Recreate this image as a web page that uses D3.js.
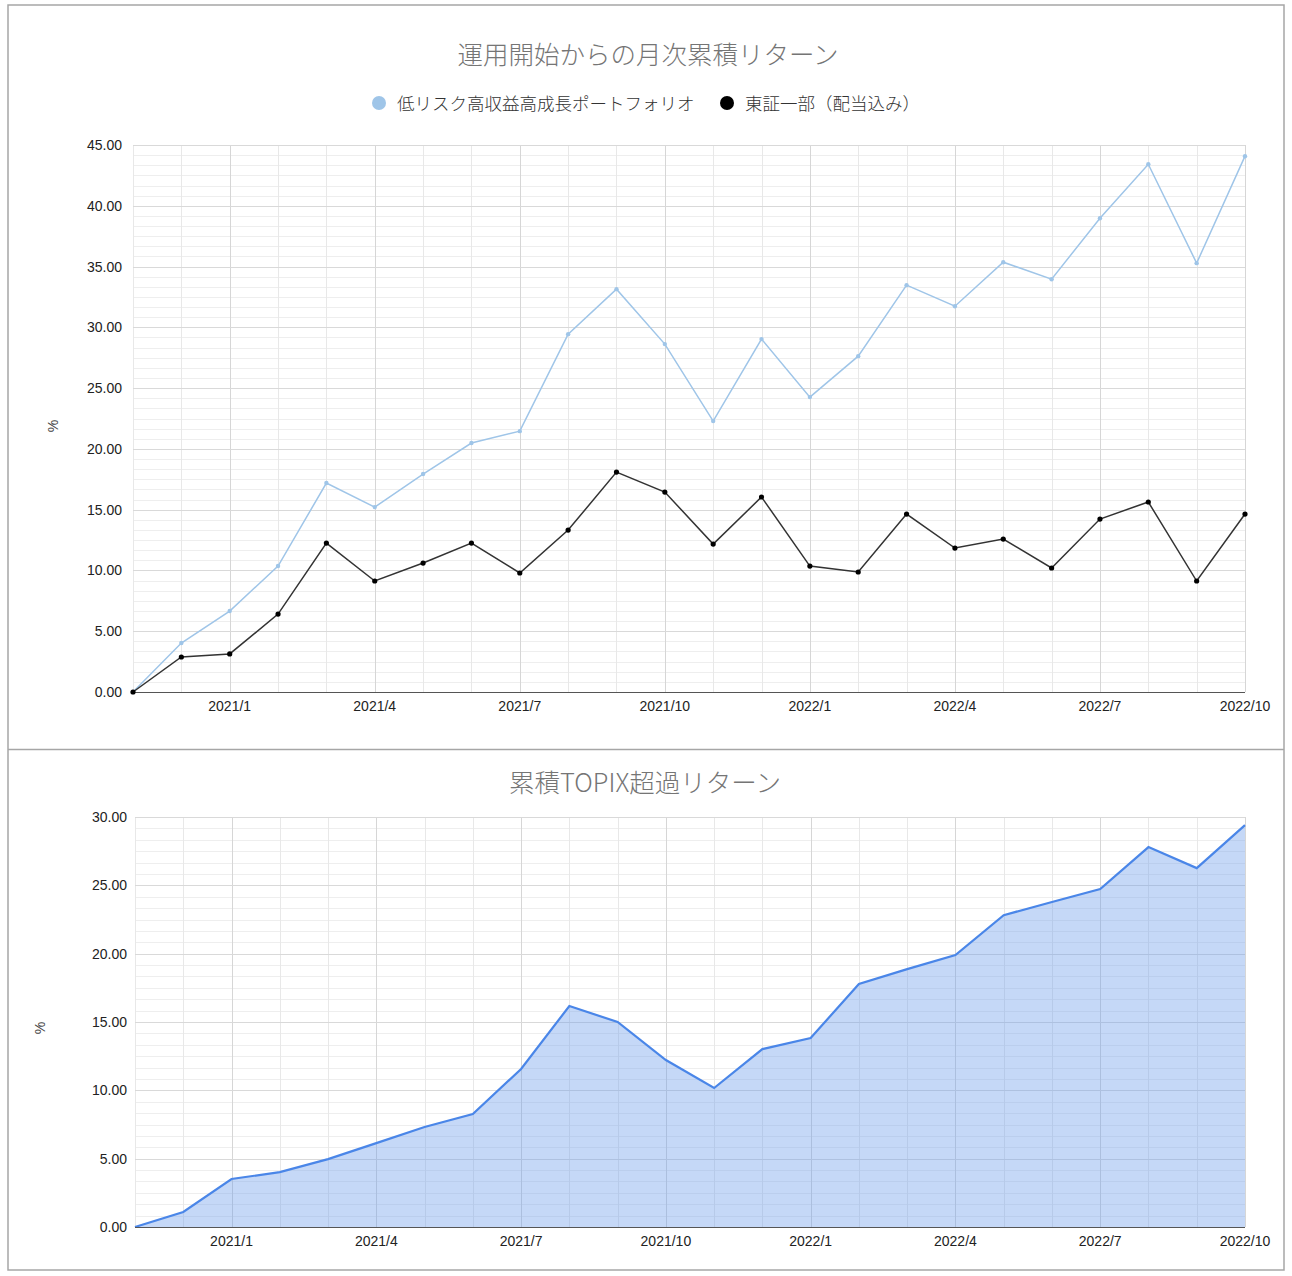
<!DOCTYPE html>
<html>
<head>
<meta charset="utf-8">
<script src="https://cdn.jsdelivr.net/npm/d3@7"></script>
<style>
  body { margin: 0; background: #fff; }
  text { font-family: "Liberation Sans", Arial, sans-serif; }
  .jp { font-family: "Noto Sans CJK JP", sans-serif; }
</style>
</head>
<body>
<svg id="chart" width="1292" height="1276"></svg>
<script>
// months from 2020/11 to 2022/10
const months = ['2020/11', '2020/12', '2021/1', '2021/2', '2021/3', '2021/4', '2021/5', '2021/6',
  '2021/7', '2021/8', '2021/9', '2021/10', '2021/11', '2021/12', '2022/1', '2022/2', '2022/3',
  '2022/4', '2022/5', '2022/6', '2022/7', '2022/8', '2022/9', '2022/10'];
const tickLabels = ['2021/1', '2021/4', '2021/7', '2021/10', '2022/1', '2022/4', '2022/7', '2022/10'];

const portfolio = [0, 4.03, 6.66, 10.36, 17.19, 15.21, 17.93, 20.48, 21.46, 29.44, 33.14, 28.62,
  22.29, 29.03, 24.26, 27.63, 33.47, 31.74, 35.36, 33.96, 38.98, 43.42, 35.28, 44.08];
const topix = [0, 2.88, 3.13, 6.41, 12.25, 9.13, 10.61, 12.25, 9.79, 13.32, 18.09, 16.45,
  12.17, 16.04, 10.36, 9.87, 14.64, 11.84, 12.58, 10.20, 14.23, 15.63, 9.13, 14.64];
const excess = [0, 1.1, 3.51, 4.02, 4.97, 6.14, 7.32, 8.27, 11.56, 16.17, 15.0, 12.22,
  10.17, 13.02, 13.83, 17.78, 18.87, 19.9, 22.82, 23.78, 24.73, 27.8, 26.26, 29.41];

const topTicks = [0, 5, 10, 15, 20, 25, 30, 35, 40, 45];
const bottomTicks = [0, 5, 10, 15, 20, 25, 30];

const svg = d3.select('#chart');

// frames
svg.append('rect').attr('x', 8).attr('y', 5).attr('width', 1276).attr('height', 1265)
  .attr('fill', 'none').attr('stroke', '#a6a6a6').attr('stroke-width', 1.5);
svg.append('line').attr('x1', 8).attr('x2', 1284).attr('y1', 749.5).attr('y2', 749.5)
  .attr('stroke', '#a6a6a6').attr('stroke-width', 1.5);

function drawGrid(g, x, y, ticks, left, right, top, bottom, yLabelX) {
  const max = ticks[ticks.length - 1];
  const minor = d3.range(0, max + 0.001, 5 / 6);
  g.append('g').selectAll('line').data(minor).join('line')
    .attr('x1', left).attr('x2', right)
    .attr('y1', (d) => Math.round(y(d)) + 0.5).attr('y2', (d) => Math.round(y(d)) + 0.5)
    .attr('stroke', '#eeeeee');
  g.append('g').selectAll('line').data(months).join('line')
    .attr('x1', (d) => Math.round(x(d)) + 0.5).attr('x2', (d) => Math.round(x(d)) + 0.5)
    .attr('y1', top).attr('y2', bottom)
    .attr('stroke', (d) => (tickLabels.includes(d) ? '#d6d6d6' : '#e8e8e8'));
  g.append('g').selectAll('line').data(ticks).join('line')
    .attr('x1', left).attr('x2', right)
    .attr('y1', (d) => Math.round(y(d)) + 0.5).attr('y2', (d) => Math.round(y(d)) + 0.5)
    .attr('stroke', (d) => (d === 0 ? '#555' : '#d9d9d9'));

  g.append('g').selectAll('text').data(ticks).join('text')
    .attr('x', yLabelX).attr('y', (d) => y(d) + 5)
    .attr('text-anchor', 'end').attr('font-size', 14).attr('fill', '#222')
    .text((d) => d.toFixed(2));
  g.append('g').selectAll('text').data(tickLabels).join('text')
    .attr('x', (d) => x(d)).attr('y', bottom + 19)
    .attr('text-anchor', 'middle').attr('font-size', 14).attr('fill', '#222')
    .text((d) => d);
}

// ---------- top chart ----------
const topChart = svg.append('g');
const x1 = d3.scalePoint().domain(months).range([133, 1245]);
const y1 = d3.scaleLinear().domain([0, 45]).range([692, 145]);
drawGrid(topChart, x1, y1, topTicks, 133, 1245, 145, 692, 122);

topChart.append('text').attr('class', 'jp').attr('x', 648).attr('y', 64)
  .attr('text-anchor', 'middle').attr('font-size', 25.5).attr('font-weight', 300).attr('fill', '#757575')
  .text('運用開始からの月次累積リターン');
topChart.append('text').attr('x', 58).attr('y', 426).attr('font-size', 14).attr('fill', '#444')
  .attr('text-anchor', 'middle').attr('transform', 'rotate(-90,58,426)').text('%');

const legend = [
  { name: '低リスク高収益高成長ポートフォリオ', color: '#9fc5e8', x: 379 },
  { name: '東証一部（配当込み）', color: '#000', x: 727 },
];
const lg = topChart.append('g').selectAll('g').data(legend).join('g');
lg.append('circle').attr('cx', (d) => d.x).attr('cy', 103).attr('r', 7).attr('fill', (d) => d.color);
lg.append('text').attr('class', 'jp').attr('x', (d) => d.x + 18).attr('y', 109.5)
  .attr('font-size', 17.5).attr('font-weight', 300).attr('fill', '#333').text((d) => d.name);

const line1 = d3.line().x((d, i) => x1(months[i])).y((d) => y1(d));
const seriesTop = [
  { values: portfolio, color: '#9fc5e8', dot: '#9fc5e8', width: 1.5, r: 2.2 },
  { values: topix, color: '#333', dot: '#000', width: 1.5, r: 2.6 },
];
seriesTop.forEach((s) => {
  topChart.append('path').datum(s.values).attr('d', line1)
    .attr('fill', 'none').attr('stroke', s.color).attr('stroke-width', s.width);
  topChart.append('g').selectAll('circle').data(s.values).join('circle')
    .attr('cx', (d, i) => x1(months[i])).attr('cy', (d) => y1(d))
    .attr('r', s.r).attr('fill', s.dot);
});

// ---------- bottom chart ----------
const botChart = svg.append('g');
const x2 = d3.scalePoint().domain(months).range([135, 1245]);
const y2 = d3.scaleLinear().domain([0, 30]).range([1227, 817]);

botChart.append('text').attr('class', 'jp').attr('x', 645).attr('y', 792)
  .attr('text-anchor', 'middle').attr('font-size', 25.5).attr('font-weight', 300).attr('fill', '#757575')
  .text('累積TOPIX超過リターン');
botChart.append('text').attr('x', 45).attr('y', 1028).attr('font-size', 14).attr('fill', '#444')
  .attr('text-anchor', 'middle').attr('transform', 'rotate(-90,45,1028)').text('%');

drawGrid(botChart, x2, y2, bottomTicks, 135, 1245, 817, 1227, 127);

const area = d3.area().x((d, i) => x2(months[i])).y0(y2(0)).y1((d) => y2(d));
const line2 = d3.line().x((d, i) => x2(months[i])).y((d) => y2(d));
botChart.append('path').datum(excess).attr('d', area)
  .attr('fill', '#6d9eeb').attr('fill-opacity', 0.4);
botChart.append('path').datum(excess).attr('d', line2)
  .attr('fill', 'none').attr('stroke', '#4a86e8').attr('stroke-width', 2.2);
botChart.append('line').attr('x1', 135).attr('x2', 1245).attr('y1', 1227.5).attr('y2', 1227.5)
  .attr('stroke', '#555');
</script>
</body>
</html>
